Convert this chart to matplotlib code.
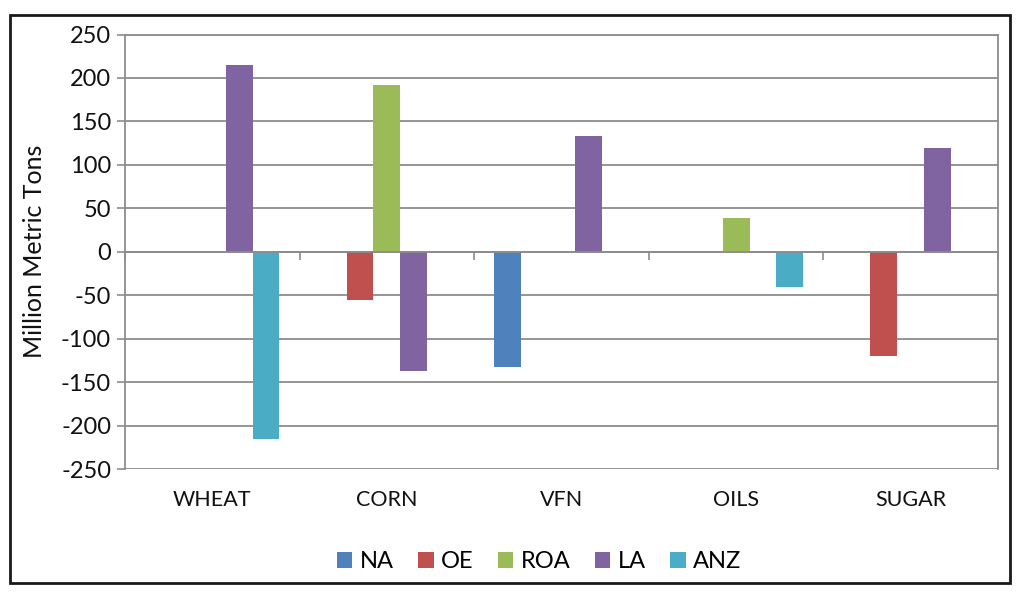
import matplotlib
matplotlib.use("Agg")
import matplotlib.pyplot as plt
from matplotlib.patches import Rectangle
import matplotlib.transforms as mtransforms
import numpy as np

plt.rcParams["font.family"] = ["Lato", "DejaVu Sans"]

# data
categories = ["WHEAT", "CORN", "VFN", "OILS", "SUGAR"]
series = ["NA", "OE", "ROA", "LA", "ANZ"]
na_vals = [0, 0, -133, 0, 0]
oe_vals = [0, -56, 0, 0, -120]
roa_vals = [0, 192, 0, 39, 0]
la_vals = [215, -137, 133, 0, 119]
anz_vals = [-215, 0, 0, -41, 0]
y_ticks = [-250, -200, -150, -100, -50, 0, 50, 100, 150, 200, 250]

colors = ["#4F81BD", "#C0504D", "#9BBB59", "#8064A2", "#4BACC6"]
GRID = "#8c8c8c"
TXT = "#111111"

fig = plt.figure(figsize=(10.24, 5.96), dpi=100)
ax = fig.add_axes([125 / 1024, 1 - 469 / 596, 873 / 1024, 434.5 / 596])

values = [na_vals, oe_vals, roa_vals, la_vals, anz_vals]
x = np.arange(len(categories))
bw = 1 / 6.5  # excel gap width 150%
for i, (name, vals) in enumerate(zip(series, values)):
    offs = (i - 2) * bw
    ax.bar(x + offs, vals, width=bw, color=colors[i], label=name,
           linewidth=0, zorder=3)

ax.set_xlim(-0.5, len(categories) - 0.5)
ax.set_ylim(-250, 250)
ax.set_yticks(y_ticks)
ax.set_yticklabels([str(v) for v in y_ticks], fontsize=17, color=TXT)
ax.yaxis.grid(True, color=GRID, linewidth=1.3, zorder=0)
ax.tick_params(axis="y", length=6, width=1.2, color=GRID, pad=4)

# horizontal axis sits at zero, ticks between categories
ax.spines["bottom"].set_position(("data", 0))
ax.spines["bottom"].set_zorder(4)
ax.set_xticks(np.arange(len(categories) + 1) - 0.5)
ax.set_xticklabels([])
ax.tick_params(axis="x", length=6, width=1.2, color=GRID, direction="out")
for s in ["left", "right", "top", "bottom"]:
    ax.spines[s].set_color(GRID)
    ax.spines[s].set_linewidth(1.3)

trans = mtransforms.blended_transform_factory(ax.transData, ax.transAxes)
for xi, c in zip(x, categories):
    ax.text(xi, -0.072, c, transform=trans, ha="center", va="center",
            fontsize=15.5, color=TXT)

ax.set_ylabel("Million Metric Tons", fontsize=18, color=TXT, labelpad=11)

leg = fig.legend(loc="center", bbox_to_anchor=(539 / 1024, 1 - 562 / 596),
                 ncol=5, frameon=False, fontsize=17, handlelength=0.65,
                 handleheight=0.65, handletextpad=0.3, columnspacing=1.05)

# outer chart frame
fig.patches.append(Rectangle((10 / 1024, 1 - 583 / 596), 1000 / 1024, 568 / 596,
                             transform=fig.transFigure, fill=False,
                             edgecolor="#1a1a1a", linewidth=2))

fig.savefig("out.png", dpi=100, facecolor="white")
